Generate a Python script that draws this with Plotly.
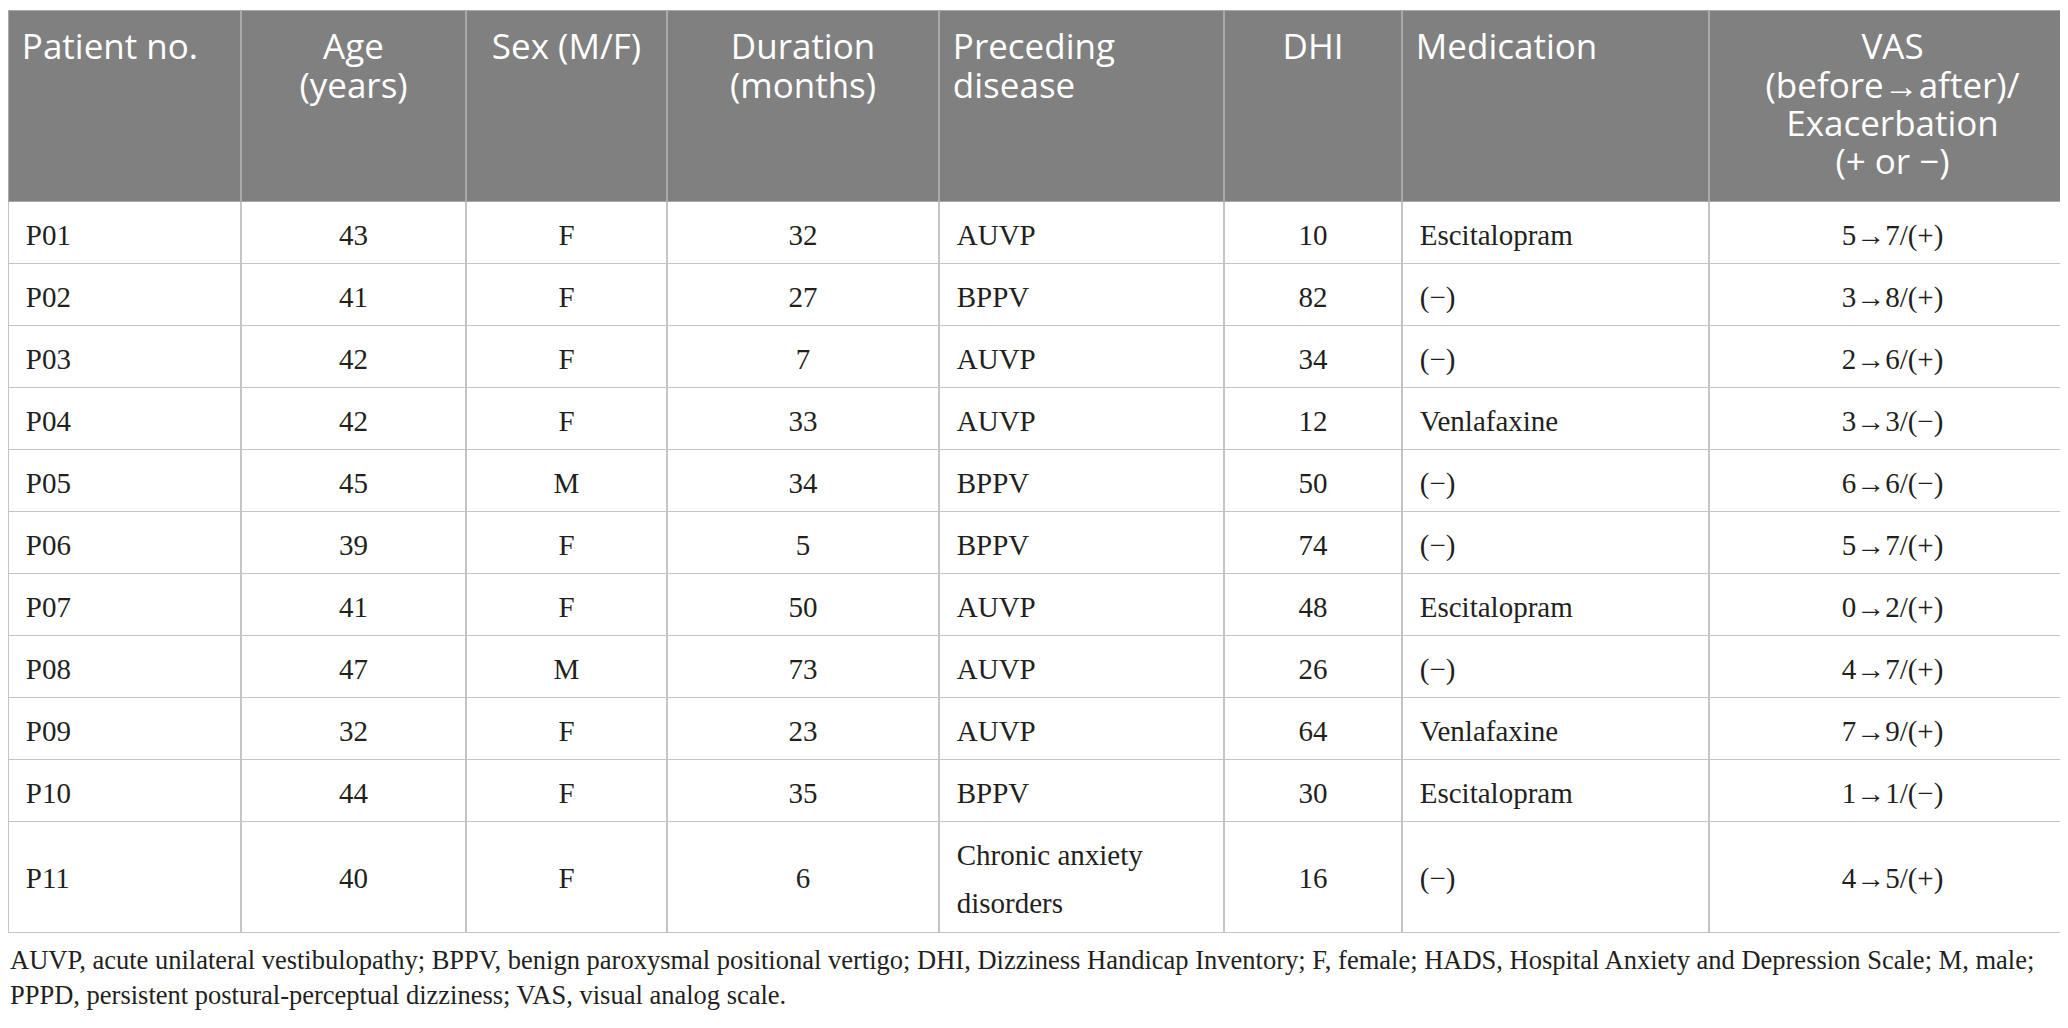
import plotly.graph_objects as go

# column headers (<br> = line break in the printed header)
header_labels = ["Patient no.", "Age<br>(years)", "Sex (M/F)", "Duration<br>(months)",
                 "Preceding<br>disease", "DHI", "Medication",
                 "VAS<br>(before\u2192after)/<br>Exacerbation<br>(+ or \u2212)"]

# table body, one list per column
patients = ["P01", "P02", "P03", "P04", "P05", "P06", "P07", "P08", "P09", "P10", "P11"]
ages = [43, 41, 42, 42, 45, 39, 41, 47, 32, 44, 40]
sexes = ["F", "F", "F", "F", "M", "F", "F", "M", "F", "F", "F"]
durations = [32, 27, 7, 33, 34, 5, 50, 73, 23, 35, 6]
preceding = ["AUVP", "BPPV", "AUVP", "AUVP", "BPPV", "BPPV", "AUVP", "AUVP", "AUVP", "BPPV",
             "Chronic anxiety<br>disorders"]
dhi = [10, 82, 34, 12, 50, 74, 48, 26, 64, 30, 16]
medication = ["Escitalopram", "(\u2212)", "(\u2212)", "Venlafaxine", "(\u2212)", "(\u2212)",
              "Escitalopram", "(\u2212)", "Venlafaxine", "Escitalopram", "(\u2212)"]
vas_before = [5, 3, 2, 3, 6, 5, 0, 4, 7, 1, 4]
vas_after = [7, 8, 6, 3, 6, 7, 2, 7, 9, 1, 5]
exacerbation = ["+", "+", "+", "\u2212", "\u2212", "+", "+", "+", "+", "\u2212", "+"]

footnote_lines = [
    "AUVP, acute unilateral vestibulopathy; BPPV, benign paroxysmal positional vertigo; "
    "DHI, Dizziness Handicap Inventory; F, female; HADS, Hospital Anxiety and Depression Scale; M, male;",
    "PPPD, persistent postural-perceptual dizziness; VAS, visual analog scale.",
]

col_widths = [233, 225, 201, 272, 285, 178, 307, 367]
align = ["left", "center", "center", "center", "left", "center", "left", "center"]

H = 1028
GRID = "#c4c4c4"
HEAD_BG = "#808080"
HEAD_LINE = "#a9a9a9"
TXT = "#231f20"
CLEAR = "rgba(0,0,0,0)"
NBSP = "\u00a0"

BODY_PX = 29     # visible body text
LEAD_PX = 39     # invisible strut that sets the baseline inside a 62px row
TALL_PX = 65     # strut for the single-line cells of the taller last row
TAIL_PX = 57     # strut at the end of a wrapped cell (gives the taller row)
WRAP_BASE = 37   # base size of the disease column -> line gap of the wrapped text
HEAD_PX = 35


def span(px, s):
    return "<span style='font-size:%dpx'>%s</span>" % (px, s)


def cell_html(value, centre, strut=LEAD_PX, tail=None):
    lines = str(value).split("<br>")
    out = []
    for i, line in enumerate(lines):
        if centre:
            s = span(strut, NBSP) + span(BODY_PX, line) + span(strut, NBSP)
        else:
            # left cells: fixed indent, the baseline strut goes after the text
            s = span(LEAD_PX, NBSP) + span(BODY_PX, line)
            if strut != LEAD_PX:
                s += span(strut, NBSP)
        if tail and i == len(lines) - 1:
            s += span(tail, NBSP)
        out.append(s)
    # trailing break keeps plotly from re-wrapping at the spaces in the tags
    return "<br>".join(out) + "<br>"


vas_text = ["%d\u2192%d/(%s)" % (b, a, e)
            for b, a, e in zip(vas_before, vas_after, exacerbation)]
columns = [patients, ages, sexes, durations, preceding, dhi, medication, vas_text]

tall_rows = [ri for ri, v in enumerate(preceding) if "<br>" in v]
cell_text = []
for ci, col in enumerate(columns):
    centre = align[ci] == "center"
    out = []
    for ri, v in enumerate(col):
        if ri in tall_rows and "<br>" in str(v):
            out.append(cell_html(v, centre, tail=TAIL_PX))
        elif ri in tall_rows:
            out.append(cell_html(v, centre, strut=TALL_PX))
        else:
            out.append(cell_html(v, centre))
    cell_text.append(out)

# header text: one table row per printed line so that each line is centred
split = [lab.replace(" ", NBSP).split("<br>") for lab in header_labels]
n_lines = max(len(s) for s in split)
head_rows = [s + [""] * (n_lines - len(s)) for s in split]

fig = go.Figure()

# grid, fills and body text
fig.add_trace(go.Table(
    columnwidth=col_widths,
    header=dict(
        values=[""] * len(col_widths),
        fill_color=HEAD_BG,
        line=dict(color=HEAD_LINE, width=1.5),
        height=191,
    ),
    cells=dict(
        values=cell_text,
        align=align,
        fill_color="white",
        line=dict(color=GRID, width=1.5),
        font=dict(family="Liberation Serif", size=[WRAP_BASE if i == 4 else BODY_PX
                                                    for i in range(len(col_widths))],
                  color=TXT),
        height=62,
    ),
    domain=dict(x=[0, 1], y=[0, 1 - 2.5 / H]),
))

# header text laid over the grey header band
fig.add_trace(go.Table(
    columnwidth=col_widths,
    header=dict(
        values=head_rows,
        align=align,
        prefix=["\u2006" if a == "left" else "" for a in align],
        fill_color=CLEAR,
        line=dict(color=CLEAR, width=0),
        font=dict(family="Open Sans", size=HEAD_PX, color="white"),
        height=38.3,
    ),
    cells=dict(
        values=[[""] for _ in col_widths],
        fill_color=CLEAR,
        line=dict(color=CLEAR, width=0),
        height=1,
    ),
    domain=dict(x=[0, 1], y=[0.5, 1 - 17 / H]),
))

for i, line in enumerate(footnote_lines):
    fig.add_annotation(
        text=line, xref="paper", yref="paper", x=0, y=1 - (952 + 35 * i) / H,
        xanchor="left", yanchor="middle", showarrow=False,
        font=dict(family="Liberation Serif", size=26.5, color=TXT),
    )

fig.update_layout(
    width=2068, height=H,
    margin=dict(l=0, r=0, t=0, b=0),
    paper_bgcolor="white",
)

fig.write_html("out.html")
